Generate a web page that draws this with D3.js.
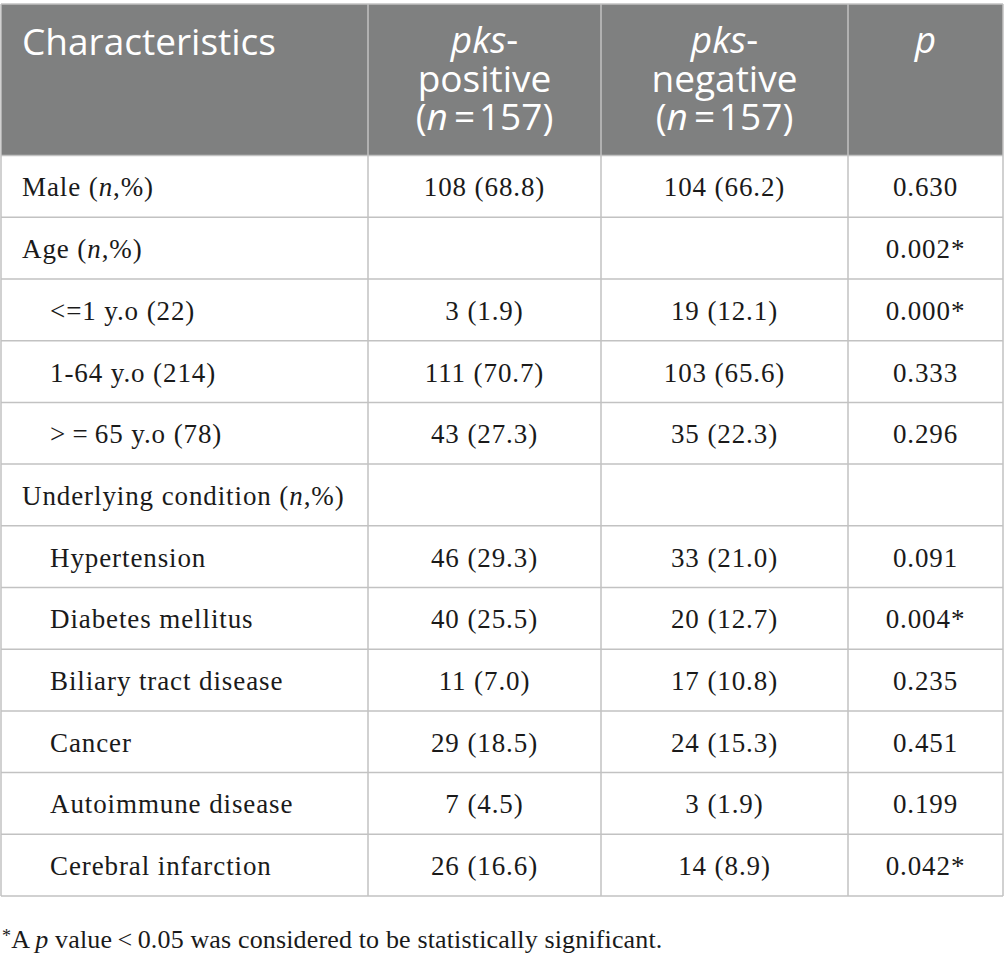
<!DOCTYPE html>
<html>
<head>
<meta charset="utf-8">
<title>pks table</title>
<script src="https://d3js.org/d3.v7.min.js"></script>
<style>
    body { margin: 0; background: #fff; }
    .head text { font-family: "Open Sans", sans-serif; font-size: 37px; fill: #fff; }
    .body text { font-family: "Liberation Serif", "Times New Roman", serif; font-size: 27px; letter-spacing: 0.9px; fill: #1a1a1a; }
    .grid line { stroke: #c2c2c2; stroke-width: 1.5px; }
    .note { font-family: "Liberation Serif", serif; font-size: 26px; letter-spacing: 0.15px; fill: #1a1a1a; }
</style>
</head>
<body>
<svg width="1004" height="975"></svg>
<script>
// row labels and indentation level
const labels = ["Male (n,%)", "Age (n,%)", "<=1 y.o (22)", "1-64 y.o (214)", ">\u2009=\u200965 y.o (78)",
    "Underlying condition (n,%)", "Hypertension", "Diabetes mellitus", "Biliary tract disease",
    "Cancer", "Autoimmune disease", "Cerebral infarction"];
const indent = [0, 0, 1, 1, 1, 0, 1, 1, 1, 1, 1, 1];

// pks-positive group
const posN   = [108, null, 3, 111, 43, null, 46, 40, 11, 29, 7, 26];
const posPct = [68.8, null, 1.9, 70.7, 27.3, null, 29.3, 25.5, 7.0, 18.5, 4.5, 16.6];
// pks-negative group
const negN   = [104, null, 19, 103, 35, null, 33, 20, 17, 24, 3, 14];
const negPct = [66.2, null, 12.1, 65.6, 22.3, null, 21.0, 12.7, 10.8, 15.3, 1.9, 8.9];
// p values
const pValues = [0.630, 0.002, 0.000, 0.333, 0.296, null, 0.091, 0.004, 0.235, 0.451, 0.199, 0.042];

const groupN = 157;

const svg = d3.select("svg");
const colEdges = [1, 368, 601, 848, 1003];
const tableTop = 4, headBottom = 155.6, tableBottom = 896;

const y = d3.scaleBand()
    .domain(d3.range(labels.length))
    .range([headBottom, tableBottom]);

const pct = d3.format(".1f");
const pfmt = d3.format(".3f");
const cell = (n, p) => n == null ? "" : `${n} (${pct(p)})`;

// header
const head = svg.append("g").attr("class", "head");
head.append("rect")
    .attr("x", colEdges[0]).attr("y", tableTop)
    .attr("width", colEdges[4] - colEdges[0]).attr("height", headBottom - tableTop)
    .attr("fill", "#7f8080");

head.append("text").attr("x", 22).attr("y", 55).text("Characteristics");

function groupHeader(cx, word) {
    const t = head.append("text").attr("text-anchor", "middle");
    const l1 = t.append("tspan").attr("x", cx).attr("y", 53);
    l1.append("tspan").attr("font-style", "italic").text("pks");
    l1.append("tspan").text("-");
    t.append("tspan").attr("x", cx).attr("y", 92).text(word);
    const l3 = t.append("tspan").attr("x", cx).attr("y", 130);
    l3.append("tspan").text("(");
    l3.append("tspan").attr("font-style", "italic").text("n");
    l3.append("tspan").text(`\u2009=\u200a${groupN})`);
}
groupHeader((colEdges[1] + colEdges[2]) / 2, "positive");
groupHeader((colEdges[2] + colEdges[3]) / 2, "negative");
head.append("text").attr("x", (colEdges[3] + colEdges[4]) / 2).attr("y", 53)
    .attr("text-anchor", "middle").attr("font-style", "italic").text("p");

// body
const body = svg.append("g").attr("class", "body");
const rows = body.selectAll("g.row").data(labels).join("g")
    .attr("class", "row")
    .attr("transform", (d, i) => `translate(0,${y(i) + y.bandwidth() / 2 + 10})`);

rows.append("text")
    .attr("x", (d, i) => indent[i] ? 50 : 22)
    .each(function(d) {
        const t = d3.select(this);
        const k = d.indexOf("(n,%)");
        if (k < 0) { t.text(d); return; }
        t.append("tspan").text(d.slice(0, k + 1));
        t.append("tspan").attr("font-style", "italic").text("n");
        t.append("tspan").text(",%)");
    });

rows.append("text").attr("text-anchor", "middle")
    .attr("x", (colEdges[1] + colEdges[2]) / 2)
    .text((d, i) => cell(posN[i], posPct[i]));
rows.append("text").attr("text-anchor", "middle")
    .attr("x", (colEdges[2] + colEdges[3]) / 2)
    .text((d, i) => cell(negN[i], negPct[i]));
rows.append("text").attr("text-anchor", "middle")
    .attr("x", (colEdges[3] + colEdges[4]) / 2)
    .text((d, i) => pValues[i] == null ? "" : pfmt(pValues[i]) + (pValues[i] < 0.05 ? "*" : ""));

// grid lines
const grid = svg.append("g").attr("class", "grid");
const hLines = [tableTop].concat(d3.range(labels.length).map(i => y(i)), [tableBottom]);
grid.selectAll("line.h").data(hLines).join("line").attr("class", "h")
    .attr("x1", colEdges[0]).attr("x2", colEdges[4])
    .attr("y1", d => d).attr("y2", d => d);
grid.selectAll("line.v").data(colEdges).join("line").attr("class", "v")
    .attr("x1", d => d).attr("x2", d => d)
    .attr("y1", tableTop).attr("y2", tableBottom);

// footnote
const note = svg.append("text").attr("class", "note").attr("x", 2).attr("y", 948);
note.append("tspan").attr("font-size", "18px").attr("dy", "-6").text("*");
note.append("tspan").attr("dy", "6").text("A ");
note.append("tspan").attr("font-style", "italic").text("p");
note.append("tspan").text(" value\u2009<\u20090.05 was considered to be statistically significant.");
</script>
</body>
</html>
